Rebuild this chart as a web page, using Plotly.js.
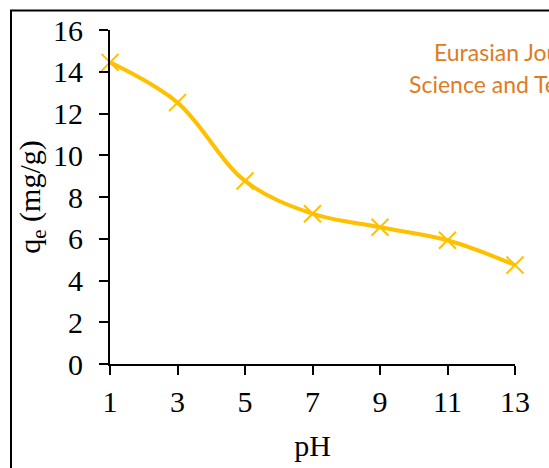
<!DOCTYPE html>
<html>
<head>
<meta charset="utf-8">
<script src="https://cdn.plot.ly/plotly-3.0.1.min.js"></script>
<style>html,body{margin:0;padding:0;background:#fff;}#chart{width:549px;height:468px;}</style>
</head>
<body>
<div id="chart"></div>
<script>
var pH = [1, 3, 5, 7, 9, 11, 13];
var qe = [14.45, 12.52, 8.77, 7.2, 6.55, 5.93, 4.74];
var xTicks = [1, 3, 5, 7, 9, 11, 13];
var yTicks = [0, 2, 4, 6, 8, 10, 12, 14, 16];
var xTitle = 'pH';
var yTitle = 'q<sub>e</sub> (mg/g)';
var watermark1 = 'Eurasian Journal of';
var watermark2 = 'Science and Technology';

var serif = 'Liberation Serif, Times New Roman, serif';

var trace = {
  x: pH, y: qe, type: 'scatter', mode: 'lines+markers',
  line: {color: '#FFC000', width: 4, shape: 'spline', smoothing: 1},
  marker: {symbol: 'x-thin', size: 17, color: '#FFC000', line: {color: '#FFC000', width: 2}},
  cliponaxis: false,
  showlegend: false
};

var layout = {
  width: 549, height: 468,
  margin: {l: 110, r: 34, t: 29.5, b: 104},
  paper_bgcolor: '#fff', plot_bgcolor: '#fff',
  font: {family: serif, color: '#000'},
  xaxis: {
    range: [1, 13], tickmode: 'array', tickvals: xTicks, ticktext: xTicks.map(String),
    showgrid: false, zeroline: false, showline: true, linecolor: '#000', linewidth: 2,
    ticks: 'outside', ticklen: 9, tickwidth: 2, tickcolor: '#000', ticklabelstandoff: 1,
    tickfont: {family: serif, size: 30, color: '#000'},
    title: {text: xTitle, font: {family: serif, size: 30, color: '#000'}, standoff: 18}
  },
  yaxis: {
    range: [0, 16], tickmode: 'array', tickvals: yTicks, ticktext: yTicks.map(String),
    showgrid: false, zeroline: false, showline: true, linecolor: '#000', linewidth: 2,
    ticks: 'outside', ticklen: 9, tickwidth: 2, tickcolor: '#000', ticklabelstandoff: 10,
    tickfont: {family: serif, size: 30, color: '#000'},
    title: {text: yTitle, font: {family: serif, size: 30, color: '#000'}, standoff: 4}
  },
  shapes: [{
    type: 'rect', xref: 'paper', yref: 'paper',
    x0: (11 - 110) / 405, x1: 2, y0: -2, y1: 1 + (29.5 - 10) / 334.5,
    line: {color: '#000', width: 2}, fillcolor: 'rgba(0,0,0,0)', layer: 'below'
  }],
  annotations: [
    {xref: 'paper', yref: 'paper', x: (432 - 110) / 405, y: 1 - (52 - 29.5) / 334.5,
     xanchor: 'left', yanchor: 'middle', showarrow: false, text: watermark1,
     font: {family: 'Lato, Open Sans, sans-serif', size: 23, color: '#E07B24'}},
    {xref: 'paper', yref: 'paper', x: (407 - 110) / 405, y: 1 - (84 - 29.5) / 334.5,
     xanchor: 'left', yanchor: 'middle', showarrow: false, text: watermark2,
     font: {family: 'Lato, Open Sans, sans-serif', size: 23, color: '#E07B24'}}
  ]
};

Plotly.newPlot('chart', [trace], layout, {displayModeBar: false, staticPlot: true});
</script>
</body>
</html>
